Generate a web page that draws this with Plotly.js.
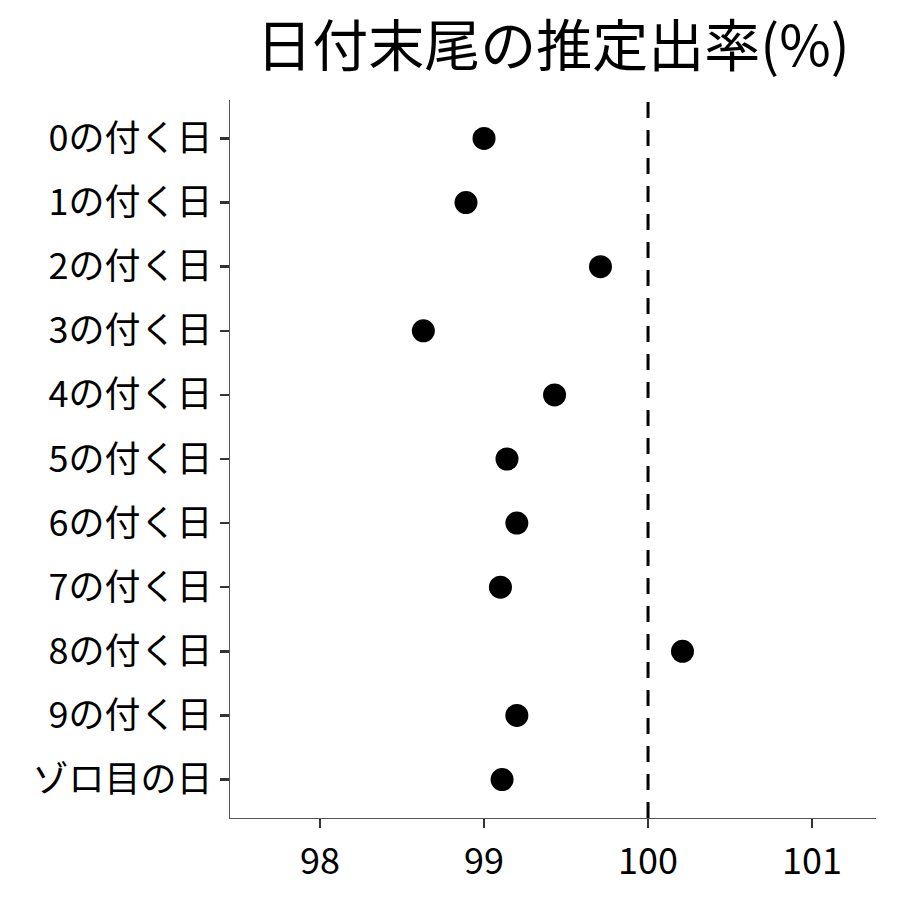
<!DOCTYPE html>
<html><head><meta charset="utf-8">
<script src="https://cdn.plot.ly/plotly-3.0.1.min.js"></script>
<style>body{margin:0;background:#fff}#c{width:900px;height:900px}</style>
</head><body><div id="c"></div>
<script>
const categories = ["0の付く日","1の付く日","2の付く日","3の付く日","4の付く日","5の付く日","6の付く日","7の付く日","8の付く日","9の付く日","ゾロ目の日"];
const rates = [99.00, 98.89, 99.71, 98.63, 99.43, 99.14, 99.20, 99.10, 100.21, 99.20, 99.11];
const refValue = 100;
const xTicks = [98, 99, 100, 101];

const font = "Noto Sans CJK JP, Noto Sans, sans-serif";
const data = [{
  type: "scatter", mode: "markers",
  x: rates, y: categories,
  marker: {color: "#000", size: 23},
  hoverinfo: "x+y"
}];
const layout = {
  width: 900, height: 900,
  margin: {l: 230, r: 24, t: 100, b: 82},
  paper_bgcolor: "#fff", plot_bgcolor: "#fff",
  showlegend: false,
  title: {text: "日付末尾の推定出率(%)", font: {family: font, size: 56, color: "#000"},
          x: 0.5, xref: "paper", xanchor: "center", y: 0.948, yref: "container", yanchor: "middle"},
  xaxis: {
    range: [97.451, 101.39], tickvals: xTicks, ticktext: xTicks.map(String),
    showgrid: false, zeroline: false,
    showline: true, linecolor: "#555", linewidth: 1.3,
    ticks: "outside", ticklen: 9, tickwidth: 2.5, tickcolor: "#333",
    tickfont: {family: font, size: 36, color: "#000"}, ticklabelstandoff: 2
  },
  yaxis: {
    type: "category", categoryorder: "array", categoryarray: categories,
    range: [10.6, -0.6],
    showgrid: false, zeroline: false,
    showline: true, linecolor: "#555", linewidth: 1.3,
    ticks: "outside", ticklen: 9, tickwidth: 2.5, tickcolor: "#333",
    tickfont: {family: font, size: 36, color: "#000"}, ticklabelstandoff: 0
  },
  shapes: [{type: "line", xref: "x", yref: "paper", x0: refValue, x1: refValue, y0: 0, y1: 1,
            line: {color: "#000", width: 3, dash: "16px,12px"}}]
};
Plotly.newPlot("c", data, layout, {displayModeBar: false, staticPlot: true});
</script></body></html>
